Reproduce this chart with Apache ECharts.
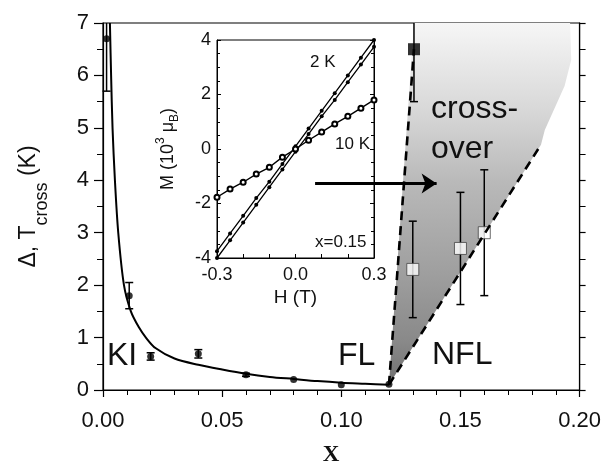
<!DOCTYPE html>
<html>
<head>
<meta charset="utf-8">
<script src="https://cdn.jsdelivr.net/npm/echarts@6/dist/echarts.min.js"></script>
<style>
  html, body { margin: 0; padding: 0; background: #fff; }
  #chart { width: 604px; height: 468px; }
</style>
</head>
<body>
<div id="chart"></div>
<script>
// ---- main panel data (x, Delta / T_cross in K) ----
// fit curve through the KI points
const fitX = [0.0029, 0.0034, 0.004, 0.005, 0.0064, 0.0088, 0.0117, 0.015, 0.018, 0.022, 0.03, 0.04, 0.05, 0.06, 0.07, 0.08, 0.09, 0.10, 0.11, 0.12];
const fitY = [7.0, 6.0, 5.0, 4.0, 3.0, 2.0, 1.5, 1.2, 1.0, 0.8, 0.6, 0.48, 0.39, 0.31, 0.25, 0.21, 0.17, 0.14, 0.12, 0.10];

// filled circles (gap)
const circX = [0.0015, 0.011, 0.020, 0.040, 0.060, 0.080, 0.100, 0.120];
const circY = [6.7, 1.8, 0.64, 0.69, 0.29, 0.20, 0.10, 0.11];
const circErr = [1.0, 0.25, 0.07, 0.08, 0.03, 0.0, 0.0, 0.0];

// filled square
const sqFillX = [0.1305];
const sqFillY = [6.5];
const sqFillErr = [1.0];

// open squares (T_cross)
const sqOpenX = [0.130, 0.150, 0.160];
const sqOpenY = [2.3, 2.7, 3.0];
const sqOpenErr = [0.92, 1.07, 1.2];

// crossover region and its dashed borders
const shadeX = [0.12, 0.1305, 0.196, 0.1965, 0.1937, 0.1854, 0.1838];
const shadeY = [0.1, 7.0, 7.0, 6.3, 5.8, 4.96, 4.68];
const dashLeftX = [0.12, 0.1305];
const dashLeftY = [0.1, 6.5];
const dashRightX = [0.12, 0.1838];
const dashRightY = [0.1, 4.68];

// arrow pointing into the crossover region
const arrowX = [0.089, 0.140];
const arrowY = [3.94, 3.94];

// ---- inset data: M (10^3 muB) vs H (T), x = 0.15 ----
const insetH = [-0.3, -0.25, -0.2, -0.15, -0.1, -0.05, 0, 0.05, 0.1, 0.15, 0.2, 0.25, 0.3];
const m2kUp = [-3.75, -3.1, -2.45, -1.8, -1.2, -0.55, 0.1, 0.75, 1.4, 2.05, 2.7, 3.35, 4.0];
const m2kDown = [-4.0, -3.35, -2.7, -2.05, -1.4, -0.75, -0.1, 0.55, 1.2, 1.8, 2.45, 3.1, 3.75];
const m10k = [-1.77, -1.47, -1.22, -0.92, -0.67, -0.3, 0.0, 0.32, 0.62, 0.92, 1.2, 1.5, 1.8];

const FONT = '"Liberation Sans", Arial, Helvetica, sans-serif';
const Y_MAX = 7;

const zip = (xs, ys) => xs.map((x, i) => [x, ys[i]]);
const errData = (xs, ys, es) => xs.map((x, i) => [x, ys[i] - es[i], ys[i] + es[i]]);

function errRender(params, api) {
  const x = api.value(0), lo = api.value(1), hi = api.value(2);
  if (hi - lo <= 0) return null;
  const top = api.coord([x, Math.min(hi, Y_MAX)]);
  const bot = api.coord([x, Math.max(lo, 0)]);
  const cap = 4;
  const st = { stroke: '#000', lineWidth: 1.5 };
  const kids = [{ type: 'line', shape: { x1: top[0], y1: top[1], x2: bot[0], y2: bot[1] }, style: st }];
  if (hi <= Y_MAX) kids.push({ type: 'line', shape: { x1: top[0] - cap, y1: top[1], x2: top[0] + cap, y2: top[1] }, style: st });
  kids.push({ type: 'line', shape: { x1: bot[0] - cap, y1: bot[1], x2: bot[0] + cap, y2: bot[1] }, style: st });
  return { type: 'group', children: kids };
}

function shadeRender(params, api) {
  const pts = shadeX.map((x, i) => api.coord([x, shadeY[i]]));
  return {
    type: 'polygon',
    shape: { points: pts },
    style: {
      fill: new echarts.graphic.LinearGradient(0, 0, 0, 1, [
        { offset: 0, color: '#f6f6f6' },
        { offset: 0.24, color: '#d8d8d8' },
        { offset: 0.44, color: '#b9b9b9' },
        { offset: 0.68, color: '#a0a0a0' },
        { offset: 0.88, color: '#898989' },
        { offset: 1, color: '#707070' }
      ])
    }
  };
}

const chart = echarts.init(document.getElementById('chart'));

const blackLine = { color: '#000', width: 1.2 };

const option = {
  animation: false,
  backgroundColor: '#fff',
  grid: [
    { left: 103, right: 22, top: 23, bottom: 78, show: true, borderColor: '#000', borderWidth: 1.2, backgroundColor: 'transparent' },
    { left: 217, top: 40, width: 157, height: 218, show: true, borderColor: '#000', borderWidth: 1, backgroundColor: '#fff' }
  ],
  xAxis: [
    {
      gridIndex: 0, type: 'value', min: 0, max: 0.2, interval: 0.05,
      axisLine: { show: true, onZero: false, lineStyle: blackLine },
      axisTick: { show: true, length: 7, lineStyle: blackLine },
      minorTick: { show: true, splitNumber: 5, length: 5, lineStyle: { color: '#000', width: 1 } },
      splitLine: { show: false },
      axisLabel: { fontSize: 22, color: '#111', fontFamily: FONT, margin: 20, formatter: v => v.toFixed(2) }
    },
    {
      gridIndex: 1, type: 'value', min: -0.3, max: 0.3, interval: 0.3,
      axisLine: { show: true, onZero: false, lineStyle: { color: '#000', width: 1 } },
      axisTick: { show: true, inside: true, length: 4, lineStyle: { color: '#000' } },
      minorTick: { show: true, splitNumber: 3, length: 4, lineStyle: { color: '#000' } },
      splitLine: { show: false },
      axisLabel: { fontSize: 18, color: '#111', fontFamily: FONT, margin: 8, formatter: v => v.toFixed(1) },
      name: 'H (T)', nameLocation: 'middle', nameGap: 30,
      nameTextStyle: { fontSize: 19, color: '#111', fontFamily: FONT }
    }
  ],
  yAxis: [
    {
      gridIndex: 0, type: 'value', min: 0, max: 7, interval: 1,
      axisLine: { show: true, onZero: false, lineStyle: blackLine },
      axisTick: { show: true, length: 9, lineStyle: blackLine },
      minorTick: { show: true, splitNumber: 2, length: 6, lineStyle: { color: '#000', width: 1 } },
      splitLine: { show: false },
      axisLabel: { fontSize: 22, color: '#111', fontFamily: FONT, margin: 14 },
      name: '{a|Δ, T}{s|cross}{a| (K)}', nameLocation: 'middle', nameGap: 52,
      nameTextStyle: {
        color: '#111', fontFamily: FONT,
        rich: {
          a: { fontSize: 23, fontFamily: FONT, color: '#111', lineHeight: 34, verticalAlign: 'top' },
          s: { fontSize: 18, fontFamily: FONT, color: '#111', lineHeight: 34, verticalAlign: 'bottom' }
        }
      }
    },
    {
      gridIndex: 0, type: 'value', min: 0, max: 7, interval: 1, position: 'right',
      axisLine: { show: true, onZero: false, lineStyle: blackLine },
      axisTick: { show: true, length: 6, lineStyle: blackLine },
      minorTick: { show: true, splitNumber: 2, length: 6, lineStyle: { color: '#000', width: 1 } },
      splitLine: { show: false },
      axisLabel: { show: false }
    },
    {
      gridIndex: 1, type: 'value', min: -4, max: 4, interval: 2,
      axisLine: { show: true, onZero: false, lineStyle: { color: '#000', width: 1 } },
      axisTick: { show: true, inside: true, length: 4, lineStyle: { color: '#000' } },
      minorTick: { show: true, splitNumber: 4, length: 3, lineStyle: { color: '#000' } },
      splitLine: { show: false },
      axisLabel: { fontSize: 18, color: '#111', fontFamily: FONT, margin: 6 },
      name: '{a|M (10}{p|3}{a| μ}{b|B}{a|)}', nameLocation: 'middle', nameGap: 36,
      nameTextStyle: {
        color: '#111', fontFamily: FONT,
        rich: {
          a: { fontSize: 18, fontFamily: FONT, color: '#111', lineHeight: 26, verticalAlign: 'middle' },
          p: { fontSize: 12, fontFamily: FONT, color: '#111', lineHeight: 26, verticalAlign: 'top' },
          b: { fontSize: 12, fontFamily: FONT, color: '#111', lineHeight: 26, verticalAlign: 'bottom' }
        }
      }
    },
    {
      gridIndex: 1, type: 'value', min: -4, max: 4, interval: 2, position: 'right',
      axisLine: { show: true, onZero: false, lineStyle: { color: '#000', width: 1 } },
      axisTick: { show: true, inside: true, length: 4, lineStyle: { color: '#000' } },
      minorTick: { show: true, splitNumber: 4, length: 3, lineStyle: { color: '#000' } },
      splitLine: { show: false },
      axisLabel: { show: false }
    }
  ],
  series: [
    {
      name: 'crossover', type: 'custom', xAxisIndex: 0, yAxisIndex: 0, z: 1,
      renderItem: shadeRender, data: [[shadeX[0], shadeY[0]]], silent: true
    },
    {
      name: 'fit', type: 'line', xAxisIndex: 0, yAxisIndex: 0, z: 4,
      data: zip(fitX, fitY), smooth: 0.3, showSymbol: false, symbol: 'none',
      lineStyle: { color: '#000', width: 2 }
    },
    {
      name: 'gap err', type: 'custom', xAxisIndex: 0, yAxisIndex: 0, z: 4,
      renderItem: errRender, data: errData(circX, circY, circErr)
    },
    {
      name: 'fill sq err', type: 'custom', xAxisIndex: 0, yAxisIndex: 0, z: 4,
      renderItem: errRender, data: errData(sqFillX, sqFillY, sqFillErr)
    },
    {
      name: 'open sq err', type: 'custom', xAxisIndex: 0, yAxisIndex: 0, z: 4,
      renderItem: errRender, data: errData(sqOpenX, sqOpenY, sqOpenErr)
    },
    {
      name: 'gap', type: 'scatter', xAxisIndex: 0, yAxisIndex: 0, z: 5,
      data: zip(circX, circY), symbol: 'circle', symbolSize: 7,
      itemStyle: { color: '#000' }
    },
    {
      name: 'fill sq', type: 'scatter', xAxisIndex: 0, yAxisIndex: 0, z: 5,
      data: zip(sqFillX, sqFillY), symbol: 'rect', symbolSize: 12,
      itemStyle: { color: '#000' }
    },
    {
      name: 'open sq', type: 'scatter', xAxisIndex: 0, yAxisIndex: 0, z: 5,
      data: zip(sqOpenX, sqOpenY), symbol: 'rect', symbolSize: 12,
      itemStyle: { color: '#fff', borderColor: '#444', borderWidth: 1 }
    },
    {
      name: 'dash left', type: 'line', xAxisIndex: 0, yAxisIndex: 0, z: 6,
      data: zip(dashLeftX, dashLeftY), symbol: 'none',
      lineStyle: { color: '#000', width: 2.6, type: [9, 6] }
    },
    {
      name: 'dash right', type: 'line', xAxisIndex: 0, yAxisIndex: 0, z: 6,
      data: zip(dashRightX, dashRightY), symbol: 'none',
      lineStyle: { color: '#000', width: 2.6, type: [9, 6] }
    },
    {
      name: 'arrow', type: 'lines', coordinateSystem: 'cartesian2d', xAxisIndex: 0, yAxisIndex: 0, z: 7,
      data: [{ coords: zip(arrowX, arrowY) }],
      symbol: ['none', 'arrow'], symbolSize: [0, 15],
      lineStyle: { color: '#000', width: 3, opacity: 1 }
    },
    {
      name: '2 K up', type: 'line', xAxisIndex: 1, yAxisIndex: 2, z: 8,
      data: zip(insetH, m2kUp), symbol: 'circle', symbolSize: 4,
      itemStyle: { color: '#000' }, lineStyle: { color: '#000', width: 1.3 }
    },
    {
      name: '2 K down', type: 'line', xAxisIndex: 1, yAxisIndex: 2, z: 8,
      data: zip(insetH, m2kDown), symbol: 'circle', symbolSize: 4,
      itemStyle: { color: '#000' }, lineStyle: { color: '#000', width: 1.3 }
    },
    {
      name: '10 K', type: 'line', xAxisIndex: 1, yAxisIndex: 2, z: 8,
      data: zip(insetH, m10k), symbol: 'emptyCircle', symbolSize: 5,
      itemStyle: { color: '#000', borderWidth: 1 }, lineStyle: { color: '#000', width: 1.4 }
    }
  ],
  graphic: [
    { type: 'text', x: 107, y: 356, z: 20, style: { text: 'KI', font: '32px ' + FONT, fill: '#111', textAlign: 'left', textVerticalAlign: 'middle' } },
    { type: 'text', x: 338, y: 356, z: 20, style: { text: 'FL', font: '32px ' + FONT, fill: '#111', textAlign: 'left', textVerticalAlign: 'middle' } },
    { type: 'text', x: 432, y: 355, z: 20, style: { text: 'NFL', font: '32px ' + FONT, fill: '#111', textAlign: 'left', textVerticalAlign: 'middle' } },
    { type: 'text', x: 431, y: 109, z: 20, style: { text: 'cross-', font: '32px ' + FONT, fill: '#111', textAlign: 'left', textVerticalAlign: 'middle' } },
    { type: 'text', x: 431, y: 149, z: 20, style: { text: 'over', font: '32px ' + FONT, fill: '#111', textAlign: 'left', textVerticalAlign: 'middle' } },
    { type: 'text', x: 310, y: 62, z: 20, style: { text: '2 K', font: '17px ' + FONT, fill: '#111', textAlign: 'left', textVerticalAlign: 'middle' } },
    { type: 'text', x: 335, y: 144, z: 20, style: { text: '10 K', font: '17px ' + FONT, fill: '#111', textAlign: 'left', textVerticalAlign: 'middle' } },
    { type: 'text', x: 315, y: 242, z: 20, style: { text: 'x=0.15', font: '17px ' + FONT, fill: '#111', textAlign: 'left', textVerticalAlign: 'middle' } },
    { type: 'text', x: 331, y: 455, z: 20, style: { text: 'X', font: 'bold 23px "Liberation Serif", "Times New Roman", serif', fill: '#111', textAlign: 'center', textVerticalAlign: 'middle' } }
  ]
};

chart.setOption(option);
</script>
</body>
</html>
